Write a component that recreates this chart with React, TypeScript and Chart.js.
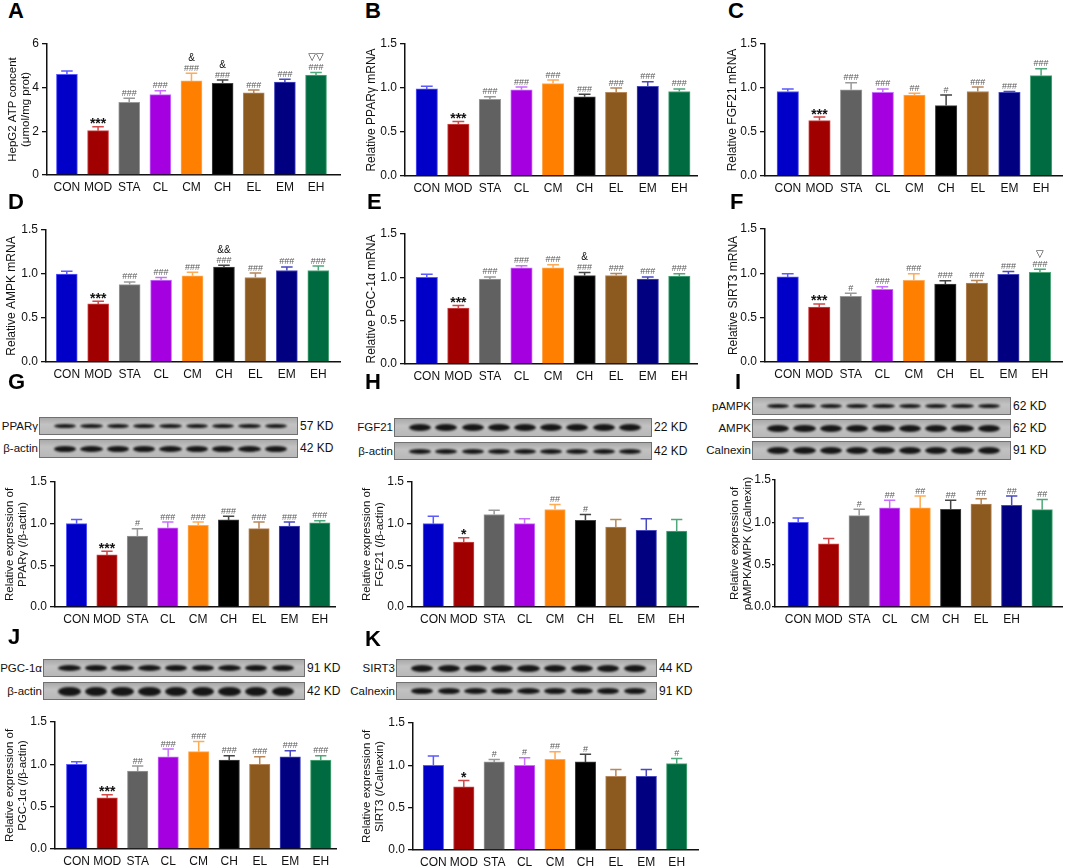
import { Chart, registerables } from 'chart.js';
import { useEffect, useRef } from 'react';

Chart.register(...registerables);

const FONT = "'Liberation Sans', Arial, 'DejaVu Sans', sans-serif";

const groups = ['CON', 'MOD', 'STA', 'CL', 'CM', 'CH', 'EL', 'EM', 'EH'];
// panel I has its labels shifted in the original figure
const groupsI = ['CON', 'MOD', 'STA', 'CL', 'CM', 'CH', 'EL', 'EH', ''];

const fillColors = ['#0000c8', '#a00000', '#616161', '#a400e0', '#ff8000', '#000000', '#8c5a1e', '#000080', '#006b40'];
const edgeColors = ['#5a5aff', '#d04848', '#9a9a9a', '#c870ff', '#ffaa55', '#444444', '#b8875a', '#4a4ac0', '#4fa87a'];

// A: HepG2 ATP content
const atpMean = [4.61, 2.03, 3.33, 3.68, 4.31, 4.2, 3.76, 4.26, 4.58];
const atpErr = [0.15, 0.18, 0.18, 0.18, 0.35, 0.15, 0.13, 0.12, 0.12];
const atpSig = ['', '***', '###', '###', '&\n###', '&\n###', '###', '###', '▽▽\n###'];

// B: PPARγ mRNA
const pparMrnaMean = [0.99, 0.59, 0.87, 0.98, 1.05, 0.9, 0.95, 1.02, 0.96];
const pparMrnaErr = [0.03, 0.03, 0.03, 0.03, 0.04, 0.03, 0.05, 0.05, 0.03];
const pparMrnaSig = ['', '***', '###', '###', '###', '###', '###', '###', '###'];

// C: FGF21 mRNA
const fgfMrnaMean = [0.96, 0.63, 0.98, 0.95, 0.92, 0.8, 0.96, 0.95, 1.14];
const fgfMrnaErr = [0.03, 0.04, 0.08, 0.04, 0.02, 0.12, 0.05, 0.01, 0.08];
const fgfMrnaSig = ['', '***', '###', '###', '##', '#', '###', '###', '###'];

// D: AMPK mRNA
const ampkMrnaMean = [1.0, 0.66, 0.88, 0.93, 0.98, 1.08, 0.96, 1.04, 1.04];
const ampkMrnaErr = [0.03, 0.03, 0.03, 0.03, 0.04, 0.02, 0.05, 0.04, 0.05];
const ampkMrnaSig = ['', '***', '###', '###', '###', '&&\n###', '###', '###', '###'];

// E: PGC-1α mRNA
const pgcMrnaMean = [1.0, 0.645, 0.98, 1.11, 1.11, 1.02, 1.02, 0.98, 1.015];
const pgcMrnaErr = [0.035, 0.03, 0.025, 0.025, 0.035, 0.035, 0.025, 0.025, 0.025];
const pgcMrnaSig = ['', '***', '###', '###', '###', '&\n###', '###', '###', '###'];

// F: SIRT3 mRNA
const sirtMrnaMean = [0.96, 0.62, 0.74, 0.82, 0.92, 0.88, 0.89, 0.99, 1.01];
const sirtMrnaErr = [0.035, 0.035, 0.035, 0.03, 0.075, 0.035, 0.03, 0.03, 0.035];
const sirtMrnaSig = ['', '***', '#', '###', '###', '###', '###', '###', '▽\n###'];

// G: PPARγ protein
const pparProtMean = [1.0, 0.625, 0.85, 0.95, 0.98, 1.045, 0.94, 0.97, 1.01];
const pparProtErr = [0.05, 0.045, 0.09, 0.07, 0.04, 0.045, 0.08, 0.05, 0.025];
const pparProtSig = ['', '***', '#', '###', '###', '###', '###', '###', '###'];

// H: FGF21 protein
const fgfProtMean = [1.0, 0.78, 1.11, 1.0, 1.17, 1.04, 0.96, 0.92, 0.91];
const fgfProtErr = [0.09, 0.05, 0.05, 0.06, 0.06, 0.07, 0.09, 0.14, 0.14];
const fgfProtSig = ['', '*', '', '', '##', '#', '', '', ''];

// I: pAMPK/AMPK protein
const pampkProtMean = [1.0, 0.745, 1.08, 1.17, 1.17, 1.155, 1.215, 1.2, 1.15];
const pampkProtErr = [0.05, 0.065, 0.075, 0.09, 0.14, 0.105, 0.065, 0.11, 0.12];
const pampkProtSig = ['', '', '#', '##', '##', '##', '##', '##', '##'];

// J: PGC-1α protein
const pgcProtMean = [1.0, 0.605, 0.92, 1.09, 1.15, 1.05, 1.0, 1.09, 1.05];
const pgcProtErr = [0.03, 0.035, 0.06, 0.09, 0.12, 0.05, 0.09, 0.07, 0.05];
const pgcProtSig = ['', '***', '##', '###', '###', '###', '###', '###', '###'];

// K: SIRT3 protein
const sirtProtMean = [1.0, 0.745, 1.04, 1.0, 1.07, 1.04, 0.87, 0.87, 1.02];
const sirtProtErr = [0.11, 0.075, 0.03, 0.09, 0.09, 0.09, 0.08, 0.08, 0.06];
const sirtProtSig = ['', '*', '#', '#', '##', '#', '', '', '#'];

const sigFont = (s: string) => {
  if (s.includes('#')) return { font: `9px ${FONT}`, color: '#5a5a5a', drop: 0, h: 8 };
  if (s.includes('*')) return { font: `bold 14px ${FONT}`, color: '#111', drop: 4, h: 7 };
  if (s.includes('▽')) return { font: `10px 'DejaVu Sans', ${FONT}`, color: '#222', drop: 0, h: 9 };
  return { font: `10px ${FONT}`, color: '#111', drop: 0, h: 9 };
};

const errorBarPlugin = {
  id: 'errorBars',
  afterDatasetsDraw(chart: any, _args: any, opts: any) {
    const { ctx, scales } = chart;
    const y = scales.y;
    const meta = chart.getDatasetMeta(0);
    const pts = chart.data.datasets[0].data;
    ctx.save();
    meta.data.forEach((bar: any, i: number) => {
      const top = y.getPixelForValue(pts[i].y + opts.err[i]);
      const cap = bar.width * 0.55;
      ctx.strokeStyle = edgeColors[i];
      ctx.lineWidth = 1.5;
      ctx.beginPath();
      ctx.moveTo(bar.x, bar.y);
      ctx.lineTo(bar.x, top);
      ctx.moveTo(bar.x - cap / 2, top);
      ctx.lineTo(bar.x + cap / 2, top);
      ctx.stroke();

      const lines = (opts.sig[i] || '').split('\n').filter(Boolean).reverse();
      let base = top - 2.5;
      ctx.textAlign = 'center';
      ctx.textBaseline = 'alphabetic';
      lines.forEach((ln: string) => {
        const f = sigFont(ln);
        ctx.font = f.font;
        ctx.fillStyle = f.color;
        ctx.fillText(ln, bar.x, base + f.drop);
        base -= f.h + 2;
      });
    });
    ctx.restore();
  },
};

type Panel = {
  letter: string;
  lx: number;
  ly: number;
  title: string | string[];
  mean: number[];
  err: number[];
  sig: string[];
  labels: string[];
  yMax: number;
  yStep: number;
  dec: number;
  left: number;
  axisX: number;
  titleX: number;
  top: number;
  bottom: number;
  right: number;
  xMin: number;
  xMax: number;
  barW: number;
  tick?: number;
};

const panels: Panel[] = [
  { letter: 'A', lx: 8, ly: 0, title: ['HepG2 ATP concent', '(μmol/mg prot)'], mean: atpMean, err: atpErr, sig: atpSig, labels: groups, yMax: 6, yStep: 2, dec: 0, left: 0, axisX: 47, titleX: 13, top: 44, bottom: 175, right: 340, xMin: -0.64, xMax: 8.77, barW: 21 },
  { letter: 'B', lx: 365, ly: 0, title: 'Relative PPARγ mRNA', mean: pparMrnaMean, err: pparMrnaErr, sig: pparMrnaSig, labels: groups, yMax: 1.5, yStep: 0.5, dec: 1, left: 356, axisX: 405, titleX: 372, top: 44, bottom: 176, right: 697, xMin: -0.69, xMax: 8.56, barW: 21.5 },
  { letter: 'C', lx: 728, ly: 0, title: 'Relative FGF21 mRNA', mean: fgfMrnaMean, err: fgfMrnaErr, sig: fgfMrnaSig, labels: groups, yMax: 1.5, yStep: 0.5, dec: 1, left: 716, axisX: 765, titleX: 733, top: 44, bottom: 176, right: 1062, xMin: -0.72, xMax: 8.66, barW: 21.5 },
  { letter: 'D', lx: 8, ly: 191, title: 'Relative AMPK mRNA', mean: ampkMrnaMean, err: ampkMrnaErr, sig: ampkMrnaSig, labels: groups, yMax: 1.5, yStep: 0.5, dec: 1, left: 0, axisX: 46, titleX: 12, top: 230, bottom: 362, right: 340, xMin: -0.66, xMax: 8.69, barW: 21 },
  { letter: 'E', lx: 367, ly: 191, title: 'Relative PGC-1α mRNA', mean: pgcMrnaMean, err: pgcMrnaErr, sig: pgcMrnaSig, labels: groups, yMax: 1.5, yStep: 0.5, dec: 1, left: 356, axisX: 405, titleX: 372, top: 234, bottom: 364, right: 697, xMin: -0.69, xMax: 8.56, barW: 21.5 },
  { letter: 'F', lx: 730, ly: 191, title: 'Relative SIRT3 mRNA', mean: sirtMrnaMean, err: sirtMrnaErr, sig: sirtMrnaSig, labels: groups, yMax: 1.5, yStep: 0.5, dec: 1, left: 716, axisX: 765, titleX: 734, top: 229, bottom: 362, right: 1062, xMin: -0.72, xMax: 8.7, barW: 21.5 },
  { letter: 'G', lx: 8, ly: 371, title: ['Relative expression of', 'PPARγ (/β-actin)'], mean: pparProtMean, err: pparProtErr, sig: pparProtSig, labels: groups, yMax: 1.5, yStep: 0.5, dec: 1, left: 0, axisX: 55, titleX: 10, top: 482, bottom: 607, right: 335, xMin: -0.71, xMax: 8.5, barW: 20.5 },
  { letter: 'H', lx: 365, ly: 371, title: ['Relative expression of', 'FGF21 (/β-actin)'], mean: fgfProtMean, err: fgfProtErr, sig: fgfProtSig, labels: groups, yMax: 1.5, yStep: 0.5, dec: 1, left: 356, axisX: 412, titleX: 367, top: 482, bottom: 607, right: 698, xMin: -0.7, xMax: 8.7, barW: 20.5 },
  { letter: 'I', lx: 735, ly: 371, title: ['Relative expression of', 'pAMPK/AMPK (/Calnexin)'], mean: pampkProtMean, err: pampkProtErr, sig: pampkProtSig, labels: groupsI, yMax: 1.5, yStep: 0.5, dec: 1, left: 716, axisX: 775, titleX: 735, top: 480, bottom: 607, right: 1062, xMin: -0.76, xMax: 8.65, barW: 20.5, tick: 3 },
  { letter: 'J', lx: 8, ly: 626, title: ['Relative expression of', 'PGC-1α (/β-actin)'], mean: pgcProtMean, err: pgcProtErr, sig: pgcProtSig, labels: groups, yMax: 1.5, yStep: 0.5, dec: 1, left: 0, axisX: 55, titleX: 10, top: 722, bottom: 849, right: 336, xMin: -0.71, xMax: 8.5, barW: 20.5 },
  { letter: 'K', lx: 365, ly: 628, title: ['Relative expression of', 'SIRT3 (/Calnexin)'], mean: sirtProtMean, err: sirtProtErr, sig: sirtProtSig, labels: groups, yMax: 1.5, yStep: 0.5, dec: 1, left: 356, axisX: 413, titleX: 367, top: 723, bottom: 850, right: 698, xMin: -0.67, xMax: 8.7, barW: 20.5 },
];

type BlotRow = { name: string; kd: string; y: number; h: number; band: number };
type BlotDef = { x: number; w: number; rows: BlotRow[] };

const blots: BlotDef[] = [
  { x: 39, w: 259, rows: [
    { name: 'PPARγ', kd: '57 KD', y: 417, h: 18, band: 4 },
    { name: 'β-actin', kd: '42 KD', y: 439, h: 19, band: 6 },
  ] },
  { x: 394, w: 258, rows: [
    { name: 'FGF21', kd: '22 KD', y: 418, h: 19, band: 7 },
    { name: 'β-actin', kd: '42 KD', y: 442, h: 18, band: 5 },
  ] },
  { x: 752, w: 259, rows: [
    { name: 'pAMPK', kd: '62 KD', y: 397, h: 18, band: 4 },
    { name: 'AMPK', kd: '62 KD', y: 419, h: 19, band: 7 },
    { name: 'Calnexin', kd: '91 KD', y: 441, h: 19, band: 7 },
  ] },
  { x: 43, w: 262, rows: [
    { name: 'PGC-1α', kd: '91 KD', y: 659, h: 18, band: 6 },
    { name: 'β-actin', kd: '42 KD', y: 682, h: 18, band: 9 },
  ] },
  { x: 396, w: 261, rows: [
    { name: 'SIRT3', kd: '44 KD', y: 659, h: 18, band: 7 },
    { name: 'Calnexin', kd: '91 KD', y: 682, h: 18, band: 6 },
  ] },
];

const PAD_TOP = 30;
const AXIS_H = 24;

function BarPanel({ p }: { p: Panel }) {
  const ref = useRef<HTMLCanvasElement | null>(null);
  const w = p.right + 3 - p.left;
  const h = p.bottom + AXIS_H - (p.top - PAD_TOP);
  const multi = Array.isArray(p.title);
  const tSize = multi ? 11.5 : 12;
  const tLine = multi ? 1.15 : 1.2;

  useEffect(() => {
    if (!ref.current) return;
    const chart = new Chart(ref.current, {
      type: 'bar',
      data: {
        datasets: [
          {
            data: p.mean.map((v, i) => ({ x: i, y: v })),
            backgroundColor: fillColors,
            borderColor: edgeColors,
            borderWidth: 1,
            barThickness: p.barW,
          },
        ],
      },
      options: {
        animation: false,
        responsive: true,
        maintainAspectRatio: false,
        layout: { padding: { top: PAD_TOP, right: 3, left: 0, bottom: 0 } },
        plugins: {
          legend: { display: false },
          tooltip: { enabled: false },
          errorBars: { err: p.err, sig: p.sig },
        },
        scales: {
          x: {
            type: 'linear',
            min: p.xMin,
            max: p.xMax,
            offset: false,
            grid: { display: false, drawTicks: false },
            border: { display: true, color: '#111', width: 1.5 },
            ticks: {
              stepSize: 1,
              includeBounds: false,
              autoSkip: false,
              maxRotation: 0,
              padding: 5,
              color: '#111',
              font: { family: FONT, size: 12 },
              callback: (v: any) => p.labels[v] ?? '',
            },
            afterFit: (s: any) => {
              s.height = AXIS_H;
            },
          },
          y: {
            min: 0,
            max: p.yMax,
            ticks: {
              stepSize: p.yStep,
              padding: p.tick ? 1 : 3,
              color: '#111',
              font: { family: FONT, size: 12 },
              callback: (v: any) => Number(v).toFixed(p.dec),
            },
            grid: {
              display: true,
              drawOnChartArea: false,
              drawTicks: true,
              tickLength: p.tick ?? 5,
              color: '#111',
              lineWidth: 1.3,
            },
            border: { display: true, color: '#111', width: 1.5 },
            title: {
              display: true,
              text: p.title,
              color: '#111',
              font: { family: FONT, size: tSize, lineHeight: tLine },
              padding: { top: p.titleX - p.left - (tSize * tLine) / 2, bottom: 0 },
            },
            afterFit: (s: any) => {
              s.width = p.axisX - p.left;
            },
          },
        },
      } as any,
      plugins: [errorBarPlugin],
    });
    return () => {
      chart.destroy();
    };
  }, []);

  return (
    <>
      <div
        style={{
          position: 'absolute',
          left: p.lx,
          top: p.ly,
          fontSize: 22,
          fontWeight: 'bold',
          lineHeight: 1,
        }}
      >
        {p.letter}
      </div>
      <div
        style={{
          position: 'absolute',
          left: p.left,
          top: p.top - PAD_TOP,
          width: w,
          height: h,
        }}
      >
        <canvas ref={ref} />
      </div>
    </>
  );
}

function Blot({ b }: { b: BlotDef }) {
  return (
    <>
      {b.rows.map((r) => (
        <div key={r.name + r.y}>
          <div
            style={{
              position: 'absolute',
              left: b.x - 81,
              width: 80,
              top: r.y,
              height: r.h,
              lineHeight: `${r.h}px`,
              textAlign: 'right',
              fontSize: 11.5,
              color: '#111',
              whiteSpace: 'nowrap',
            }}
          >
            {r.name}
          </div>
          <div
            style={{
              position: 'absolute',
              left: b.x,
              top: r.y,
              width: b.w,
              height: r.h,
              boxSizing: 'border-box',
              border: '1px solid #707070',
              background: 'linear-gradient(#aaaaaa, #c2c2c2 40%, #b8b8b8)',
              display: 'flex',
              alignItems: 'center',
              padding: '0 8px 0 12px',
            }}
          >
            {groups.map((g) => (
              <div key={g} style={{ flex: 1, display: 'flex', justifyContent: 'center' }}>
                <div
                  style={{
                    width: '84%',
                    height: r.band,
                    background: '#161616',
                    borderRadius: '50%',
                    filter: 'blur(0.8px)',
                  }}
                />
              </div>
            ))}
          </div>
          <div
            style={{
              position: 'absolute',
              left: b.x + b.w + 2,
              top: r.y,
              height: r.h,
              lineHeight: `${r.h}px`,
              fontSize: 12,
              color: '#111',
            }}
          >
            {r.kd}
          </div>
        </div>
      ))}
    </>
  );
}

export default function App() {
  return (
    <div
      style={{
        position: 'absolute',
        left: 0,
        top: 0,
        width: 1065,
        height: 868,
        background: '#fff',
        fontFamily: FONT,
        overflow: 'hidden',
      }}
    >
      {blots.map((b) => (
        <Blot key={b.x + '-' + b.rows[0].y} b={b} />
      ))}
      {panels.map((p) => (
        <BarPanel key={p.letter} p={p} />
      ))}
    </div>
  );
}
